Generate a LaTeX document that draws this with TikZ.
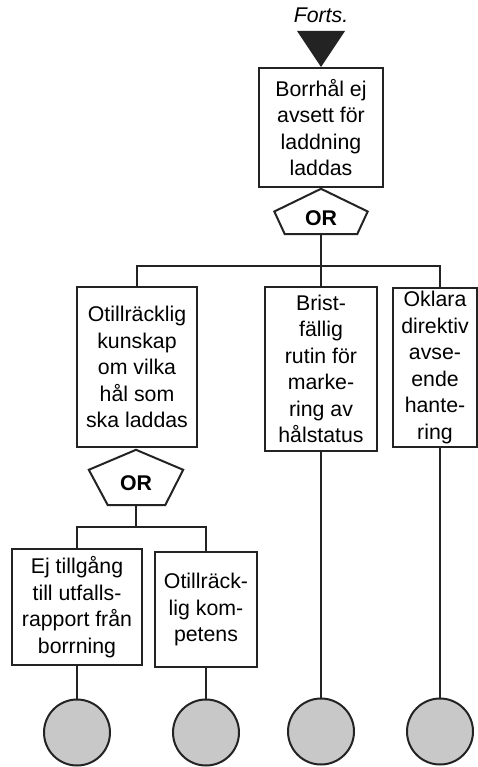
\documentclass[tikz,border=0pt]{standalone}
\usepackage{fontspec}
\setmainfont{Liberation Sans}
\usetikzlibrary{calc}
\definecolor{inkdark}{RGB}{35,35,35}
\definecolor{basicgray}{RGB}{200,200,200}
\newcommand{\evfont}{\fontsize{21.3}{26.5}\selectfont}
\tikzset{
  ln/.style={line width=2pt, draw=inkdark},
  event/.style={ln, rectangle, align=center, inner sep=0pt, font=\evfont},
  gatetext/.style={inner sep=0pt, font=\evfont\bfseries, text depth=0pt},
  basic/.style={ln, circle, minimum size=66pt, inner sep=0pt, fill=basicgray},
  conn/.style={ln},
}
\begin{document}
\begin{tikzpicture}[x=1pt,y=-1pt]
\useasboundingbox (0,0) rectangle (478,767);

% transfer-in symbol
\node[font=\evfont\itshape, inner sep=0pt] (forts) at (321,15) {Forts.};

% top event
\node[event, minimum width=124pt, minimum height=119pt] (top) at (321,127.5)
  {Borrhål ej\\avsett för\\laddning\\laddas};
\fill[inkdark] ($(top.north)+(-24,-36)$) -- ($(top.north)+(24,-36)$) -- (top.north) -- cycle;

% OR gate under the top event
\node[gatetext, minimum width=93pt, minimum height=45pt, text height=28pt] (g1) at (321,211.5) {OR};
\draw[ln, line join=miter] (g1.north) -- (g1.east) -- ($(g1.south east)+(-10.5,0)$)
  -- ($(g1.south west)+(10.5,0)$) -- (g1.west) -- cycle;

% second level
\node[event, minimum width=120pt, minimum height=160pt] (a) at (137,367)
  {Otillräcklig\\kunskap\\om vilka\\hål som\\ska laddas};
\node[event, minimum width=112pt, minimum height=164pt] (b) at (321,369)
  {Brist-\\fällig\\rutin för\\marke-\\ring av\\hålstatus};
\node[event, minimum width=84pt, minimum height=159pt] (c) at (435,367.5)
  {Oklara\\direktiv\\avse-\\ende\\hante-\\ring};

\coordinate (j1) at (321,266);
\coordinate (jr) at (440,266);
\draw[conn] (g1.south) -- (j1);
\draw[conn] (a.north) |- (jr) -- (jr |- c.north);
\draw[conn] (j1) -- (b.north);

% OR gate under the left event
\node[gatetext, minimum width=94pt, minimum height=55pt, text height=26pt] (g2) at (136,477.5) {OR};
\draw[ln, line join=miter] (g2.north) -- ($(g2.north east)+(0,20)$) -- ($(g2.south east)+(-18,0)$)
  -- ($(g2.south west)+(19,0)$) -- ($(g2.north west)+(0,20)$) -- cycle;

% third level
\node[event, minimum width=130pt, minimum height=116pt] (e) at (77,607)
  {Ej tillgång\\till utfalls-\\rapport från\\borrning};
\node[event, minimum width=102pt, minimum height=115pt] (f) at (206,609.5)
  {Otillräck-\\lig kom-\\petens};

\coordinate (j2) at (136,527);
\draw[conn] (g2.south) -- (j2);
\draw[conn] (e.north) |- (j2) -| (f.north);

% basic events
\node[basic] (ca) at (77,732.5) {};
\node[basic] (cb) at (206,732.5) {};
\node[basic] (cc) at (321,731.5) {};
\node[basic] (cd) at (440,731.5) {};

\draw[conn] (e.south) -- (ca.north);
\draw[conn] (f.south) -- (cb.north);
\draw[conn] (b.south) -- (cc.north);
\draw[conn] (jr |- c.south) -- (cd.north);
\end{tikzpicture}
\end{document}
